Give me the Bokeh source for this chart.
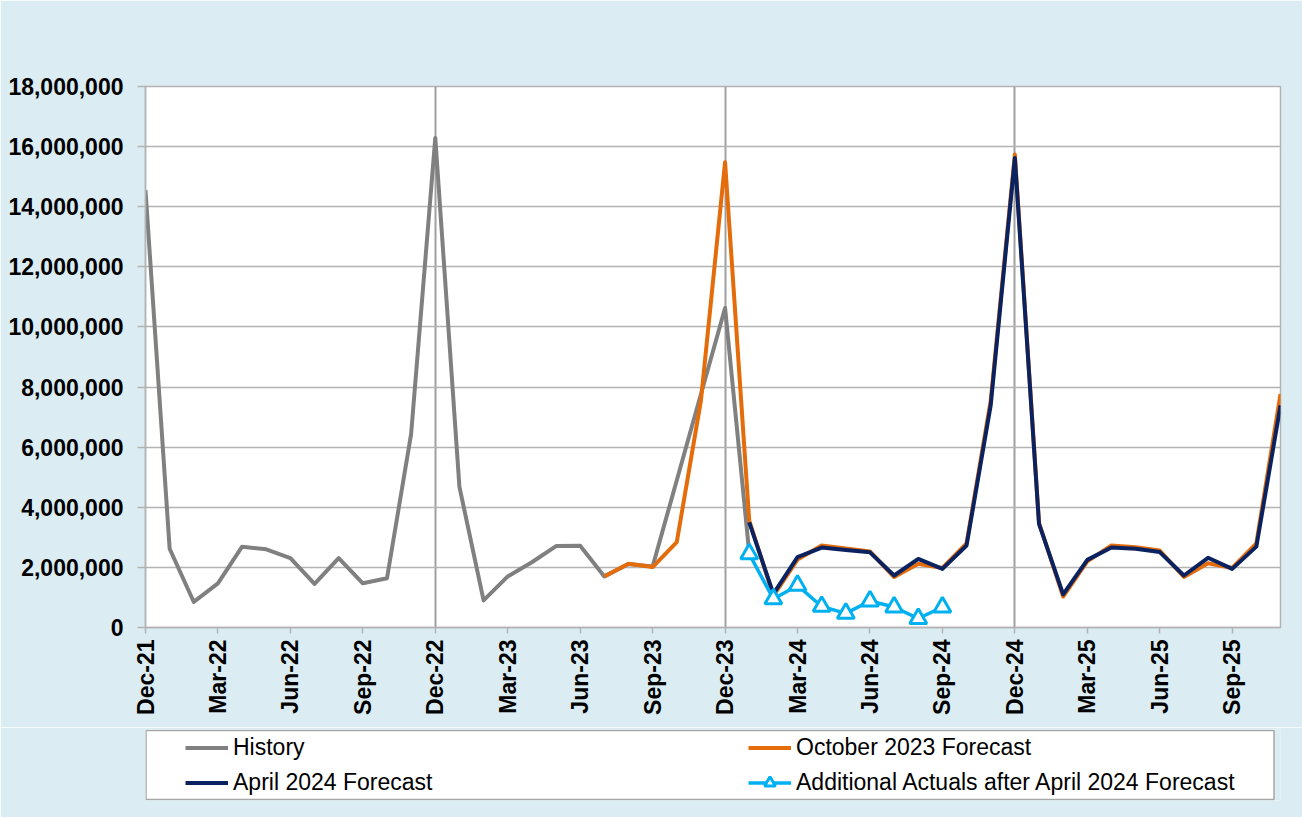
from bokeh.plotting import figure
from bokeh.layouts import column
from bokeh.models import (Range1d, FixedTicker, NumeralTickFormatter, Legend,
                          LegendItem, BoxAnnotation)
from bokeh.embed import file_html
from bokeh.resources import INLINE

# ---------------- data ----------------
months = ["Dec-21", "Jan-22", "Feb-22", "Mar-22", "Apr-22", "May-22", "Jun-22",
          "Jul-22", "Aug-22", "Sep-22", "Oct-22", "Nov-22", "Dec-22", "Jan-23",
          "Feb-23", "Mar-23", "Apr-23", "May-23", "Jun-23", "Jul-23", "Aug-23",
          "Sep-23", "Oct-23", "Nov-23", "Dec-23", "Jan-24", "Feb-24", "Mar-24",
          "Apr-24", "May-24", "Jun-24", "Jul-24", "Aug-24", "Sep-24", "Oct-24",
          "Nov-24", "Dec-24", "Jan-25", "Feb-25", "Mar-25", "Apr-25", "May-25",
          "Jun-25", "Jul-25", "Aug-25", "Sep-25", "Oct-25", "Nov-25"]

history_months = ["Dec-21", "Jan-22", "Feb-22", "Mar-22", "Apr-22", "May-22",
                  "Jun-22", "Jul-22", "Aug-22", "Sep-22", "Oct-22", "Nov-22",
                  "Dec-22", "Jan-23", "Feb-23", "Mar-23", "Apr-23", "May-23",
                  "Jun-23", "Jul-23", "Aug-23", "Sep-23", "Dec-23", "Jan-24"]
history_values = [14550000, 2620000, 850000, 1470000, 2690000, 2600000,
                  2310000, 1450000, 2310000, 1470000, 1640000, 6440000,
                  16290000, 4680000, 900000, 1700000, 2170000, 2710000,
                  2720000, 1700000, 2110000, 2030000, 10630000, 2480000]

oct23_months = months[19:]
oct23_values = [1700000, 2120000, 2010000, 2840000, 7550000, 15480000,
                3560000, 1050000, 2260000, 2730000, 2630000, 2530000,
                1680000, 2120000, 1980000, 2800000, 7550000, 15740000,
                3480000, 1030000, 2200000, 2730000, 2670000, 2560000,
                1680000, 2140000, 1980000, 2800000, 7770000]

apr24_months = months[25:]
apr24_values = [3500000, 1120000, 2340000, 2660000, 2580000, 2500000,
                1730000, 2280000, 1950000, 2730000, 7400000, 15620000,
                3450000, 1100000, 2250000, 2660000, 2620000, 2510000,
                1730000, 2320000, 1950000, 2690000, 7390000]

actual_months = ["Jan-24", "Feb-24", "Mar-24", "Apr-24", "May-24", "Jun-24",
                 "Jul-24", "Aug-24", "Sep-24"]
actual_values = [2450000, 950000, 1400000, 700000, 470000, 880000,
                 680000, 300000, 680000]

x_tick_months = ["Dec-21", "Mar-22", "Jun-22", "Sep-22", "Dec-22", "Mar-23",
                 "Jun-23", "Sep-23", "Dec-23", "Mar-24", "Jun-24", "Sep-24",
                 "Dec-24", "Mar-25", "Jun-25", "Sep-25"]
year_marks = ["Dec-22", "Dec-23", "Dec-24"]
y_ticks = [0, 2000000, 4000000, 6000000, 8000000, 10000000, 12000000,
           14000000, 16000000, 18000000]

series_names = ["History", "October 2023 Forecast", "April 2024 Forecast",
                "Additional Actuals after April 2024 Forecast"]


def idx(labels):
    return [months.index(m) for m in labels]


# ---------------- styles ----------------
BG = "#DBEDF3"
GRID = "#B3B3B3"
FONT = "Liberation Sans"
C_HIST, C_OCT, C_APR, C_ACT = "#808080", "#E46C0A", "#0A225F", "#00B0F0"
LW = 4
TRI = dict(marker="triangle", size=17, line_color=C_ACT, line_width=3,
           fill_color="white")


def draw_series(fig):
    r_h = fig.line(idx(history_months), history_values, line_color=C_HIST,
                   line_width=LW, line_join="round")
    r_o = fig.line(idx(oct23_months), oct23_values, line_color=C_OCT,
                   line_width=LW, line_join="round")
    r_a = fig.line(idx(apr24_months), apr24_values, line_color=C_APR,
                   line_width=LW, line_join="round")
    r_c = fig.line(idx(actual_months), actual_values, line_color=C_ACT,
                   line_width=3.5, line_join="round")
    r_m = fig.scatter(idx(actual_months), actual_values, **TRI)
    return r_h, r_o, r_a, r_c, r_m


# ---------------- main chart ----------------
p = figure(width=1302, height=727, output_backend="svg", toolbar_location=None,
           x_range=Range1d(0, len(months) - 1), y_range=Range1d(0, y_ticks[-1]),
           min_border_left=145, min_border_right=22, min_border_top=86,
           min_border_bottom=100)
p.background_fill_color = "white"
p.border_fill_color = BG
p.outline_line_color = GRID
p.outline_line_width = 1.5

xt = idx(x_tick_months)
p.xaxis.ticker = FixedTicker(ticks=xt)
p.xaxis.major_label_overrides = {i: months[i] for i in xt}
p.xaxis.major_label_orientation = 1.5707963267948966
p.yaxis.ticker = FixedTicker(ticks=y_ticks)
p.yaxis.formatter = NumeralTickFormatter(format="0,0")
for ax in (p.xaxis[0], p.yaxis[0]):
    ax.axis_line_color = GRID
    ax.axis_line_width = 1.5
    ax.major_tick_line_color = GRID
    ax.major_tick_line_width = 1.5
    ax.major_tick_in = 0
    ax.minor_tick_line_color = None
    ax.major_label_text_font = FONT
    ax.major_label_text_font_style = "bold"
    ax.major_label_text_font_size = "23px"
    ax.major_label_text_color = "black"
p.xaxis.major_tick_out = 6
p.xaxis.major_label_standoff = 6
p.yaxis.major_tick_out = 8
p.yaxis.major_label_standoff = 14

p.ygrid.ticker = FixedTicker(ticks=y_ticks)
p.ygrid.grid_line_color = GRID
p.ygrid.grid_line_width = 1.5
p.xgrid.ticker = FixedTicker(ticks=idx(year_marks))
p.xgrid.grid_line_color = "#A0A0A0"
p.xgrid.grid_line_width = 2

draw_series(p)

# ---------------- legend panel ----------------
# same borders as the main chart so the two frames line up; the series are
# drawn again here outside the visible range, only to feed the legend keys
lg = figure(width=1302, height=90, output_backend="svg", toolbar_location=None,
            x_range=Range1d(1000, 1001), y_range=Range1d(-2, -1),
            x_axis_type=None, y_axis_type=None,
            min_border_left=145, min_border_right=22, min_border_top=2,
            min_border_bottom=17)
lg.grid.visible = False
lg.background_fill_color = BG
lg.border_fill_color = BG
lg.outline_line_color = None

lg.add_layout(BoxAnnotation(left=145.5, right=1273.5, top=3, bottom=72,
                            left_units="canvas", right_units="canvas",
                            top_units="canvas", bottom_units="canvas",
                            fill_color="white", fill_alpha=1,
                            line_color="#A6A6A6", line_alpha=1,
                            line_width=1.5, level="underlay"))

k_hist, k_oct, k_apr, k_act, k_act_m = draw_series(lg)

legend = Legend(items=[
    LegendItem(label=series_names[0], renderers=[k_hist]),
    LegendItem(label=series_names[2], renderers=[k_apr]),
    LegendItem(label=series_names[1], renderers=[k_oct]),
    LegendItem(label=series_names[3], renderers=[k_act, k_act_m]),
], ncols=2, orientation="vertical", location=(40, 4))
legend.background_fill_alpha = 0
legend.border_line_color = None
legend.padding = 0
legend.margin = 0
legend.spacing = 8
legend.glyph_width = 43
legend.glyph_height = 27
legend.label_height = 27
legend.label_width = 507
legend.label_standoff = 5
legend.label_text_font = FONT
legend.label_text_font_size = "23px"
legend.label_text_color = "black"
lg.add_layout(legend, "center")

layout = column(p, lg, spacing=0)

open("out.html", "w").write(file_html(layout, INLINE))
